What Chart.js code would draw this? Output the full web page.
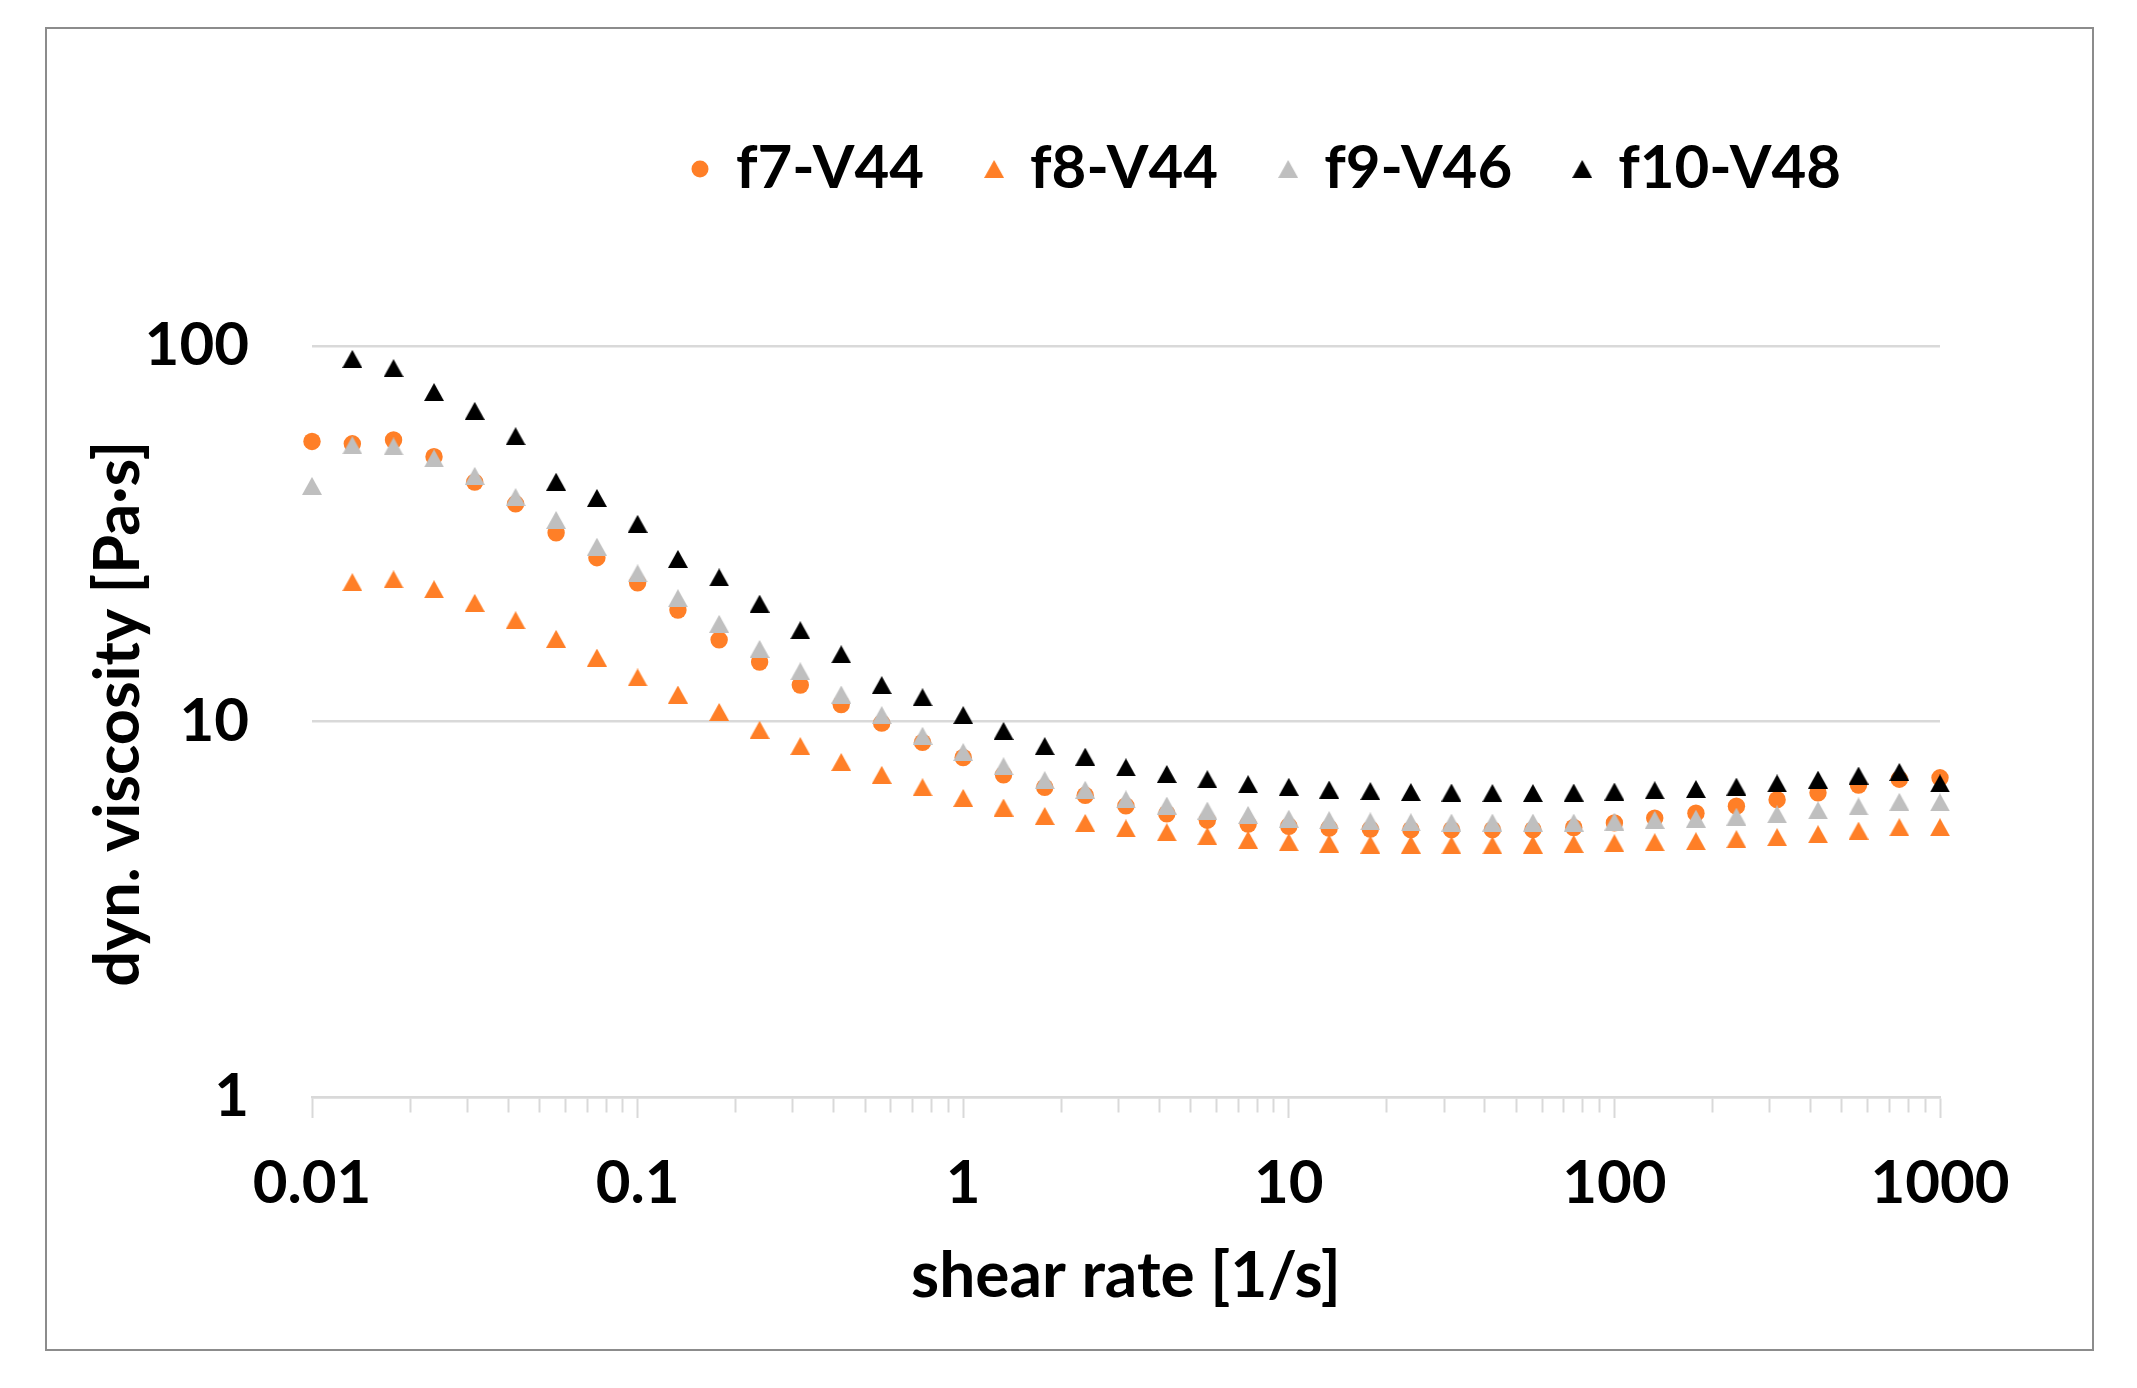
<!DOCTYPE html>
<html>
<head>
<meta charset="utf-8">
<title>dyn. viscosity vs shear rate</title>
<script src="https://cdn.jsdelivr.net/npm/chart.js@4/dist/chart.umd.min.js"></script>
<style>
  html, body { margin: 0; padding: 0; background: #fff; }
  #wrap  { position: relative; width: 2137px; height: 1388px; }
  #frame { position: absolute; left: 45px; top: 27px; width: 2045px; height: 1320px;
           border: 2px solid #8c8c8c; }
  canvas { position: absolute; left: 0; top: 0; }
</style>
</head>
<body>
<div id="wrap">
  <div id="frame"></div>
  <canvas id="chart" width="2137" height="1388"></canvas>
</div>
<script>
// ------------------------------------------------------------
// Data
// ------------------------------------------------------------
const shearRate = [
  0.01, 0.0133, 0.0178, 0.0237, 0.0316, 0.0422, 0.0562, 0.075,
  0.1, 0.133, 0.178, 0.237, 0.316, 0.422, 0.562, 0.75,
  1, 1.33, 1.78, 2.37, 3.16, 4.22, 5.62, 7.5,
  10, 13.3, 17.8, 23.7, 31.6, 42.2, 56.2, 75,
  100, 133, 178, 237, 316, 422, 562, 750, 1000
];

const f7V44 = [
  55.7, 54.9, 56.2, 50.7, 43.4, 38.0, 31.8, 27.3,
  23.4, 19.8, 16.5, 14.4, 12.5, 11.1, 9.9, 8.8,
  8.02, 7.21, 6.68, 6.36, 5.96, 5.68, 5.46, 5.33,
  5.26, 5.20, 5.17, 5.15, 5.15, 5.15, 5.15, 5.22,
  5.37, 5.53, 5.70, 5.95, 6.19, 6.46, 6.77, 7.02, 7.08
];

const f8V44 = [
  null, 23.5, 23.9, 22.5, 20.7, 18.6, 16.6, 14.8,
  13.1, 11.8, 10.6, 9.5, 8.6, 7.8, 7.21, 6.68,
  6.26, 5.90, 5.60, 5.37, 5.19, 5.07, 4.95, 4.84,
  4.77, 4.73, 4.70, 4.70, 4.68, 4.68, 4.70, 4.72,
  4.74, 4.77, 4.80, 4.86, 4.92, 5.01, 5.12, 5.23, 5.23
];

const f9V46 = [
  42.4, 54.4, 54.0, 50.2, 45.1, 39.6, 34.4, 29.2,
  24.8, 21.3, 18.2, 15.6, 13.6, 11.8, 10.4, 9.16,
  8.29, 7.60, 6.98, 6.58, 6.20, 5.97, 5.79, 5.64,
  5.51, 5.46, 5.42, 5.39, 5.38, 5.38, 5.38, 5.38,
  5.41, 5.47, 5.51, 5.58, 5.66, 5.80, 5.94, 6.11, 6.09
];

const f10V48 = [
  null, 92.4, 87.3, 75.4, 67.2, 57.5, 43.5, 39.4,
  33.6, 27.1, 24.2, 20.6, 17.5, 15.1, 12.5, 11.6,
  10.4, 9.44, 8.60, 8.06, 7.55, 7.25, 7.02, 6.81,
  6.70, 6.59, 6.53, 6.49, 6.47, 6.45, 6.45, 6.47,
  6.51, 6.56, 6.61, 6.71, 6.84, 7.00, 7.18, 7.34, 6.84
];

const seriesNames = ['f7-V44', 'f8-V44', 'f9-V46', 'f10-V48'];

const xDecades    = [0.01, 0.1, 1, 10, 100, 1000];
const xTickLabels = ['0.01', '0.1', '1', '10', '100', '1000'];
const minorSteps  = [2, 3, 4, 5, 6, 7, 8, 9];
const yTickValues = [1, 10, 100];
const yTickLabels = ['1', '10', '100'];

// ------------------------------------------------------------
// Look
// ------------------------------------------------------------
const FONT   = 'Lato, "Open Sans", sans-serif';
const ORANGE = '#ff7f27';
const GREY   = '#bfbfbf';
const BLACK  = '#000000';
const AXIS   = '#d9d9d9';

// plot area in page pixels
const PLOT = { left: 312, right: 1940, top: 346, bottom: 1097 };
const PAD  = { left: 40, bottom: 40 };

const LEGEND_PAD  = 64;
const LEGEND_TOP  = 75;
const LEGEND_LEFT = 700 - 6 - LEGEND_PAD;

// triangle marker, centred on its bounding box like the source chart
function triangleMarker(color) {
  const c = document.createElement('canvas');
  c.width = 20; c.height = 18;
  const g = c.getContext('2d');
  g.fillStyle = color;
  g.beginPath();
  g.moveTo(10, 0); g.lineTo(20, 18); g.lineTo(0, 18);
  g.closePath();
  g.fill();
  return c;
}

function toPoints(values) {
  return shearRate.map((x, i) => ({ x, y: values[i] }));
}

function decadeIndex(v) {
  return xDecades.findIndex(d => Math.abs(Math.log10(v) - Math.log10(d)) < 1e-6);
}

// move the legend to where it sits in the source (it is not centred)
const legendSpot = {
  id: 'legendSpot',
  beforeDraw(chart) {
    const lg = chart.legend;
    const h = lg.bottom - lg.top;
    lg.top = LEGEND_TOP;
    lg.bottom = LEGEND_TOP + h;
    lg.left = LEGEND_LEFT;
    lg.right = chart.width;
  }
};

function render() {
  const legendHeight = 60 + LEGEND_PAD + 10;

  const common = { showLine: false, clip: false, pointBorderWidth: 0 };

  new Chart(document.getElementById('chart'), {
    type: 'scatter',
    data: {
      datasets: [
        { ...common, label: seriesNames[0], data: toPoints(f7V44), order: 4,
          pointStyle: 'circle', pointRadius: 8.7, backgroundColor: ORANGE, borderColor: ORANGE },
        { ...common, label: seriesNames[1], data: toPoints(f8V44), order: 3,
          pointStyle: triangleMarker(ORANGE), pointRadius: 10, backgroundColor: ORANGE, borderColor: ORANGE },
        { ...common, label: seriesNames[2], data: toPoints(f9V46), order: 2,
          pointStyle: triangleMarker(GREY), pointRadius: 10, backgroundColor: GREY, borderColor: GREY },
        { ...common, label: seriesNames[3], data: toPoints(f10V48), order: 1,
          pointStyle: triangleMarker(BLACK), pointRadius: 10, backgroundColor: BLACK, borderColor: BLACK },
      ],
    },
    options: {
      responsive: false,
      animation: false,
      devicePixelRatio: 1,
      events: [],
      layout: {
        padding: {
          left: PAD.left,
          right: 2137 - PLOT.right,
          top: PLOT.top - legendHeight,
          bottom: PAD.bottom,
        },
      },
      plugins: {
        tooltip: { enabled: false },
        legend: {
          position: 'top',
          align: 'start',
          labels: {
            usePointStyle: true,
            boxWidth: 12,
            boxHeight: 12,
            padding: LEGEND_PAD,
            color: '#000',
            font: { family: FONT, size: 60, weight: 'bold' },
            sort: (a, b) => a.datasetIndex - b.datasetIndex,
          },
        },
      },
      scales: {
        x: {
          type: 'logarithmic',
          position: 'bottom',
          min: 0.01,
          max: 1000,
          afterBuildTicks: (scale) => {
            const ticks = [];
            xDecades.forEach((d, i) => {
              ticks.push({ value: d, major: true });
              if (i < xDecades.length - 1) minorSteps.forEach(m => ticks.push({ value: d * m }));
            });
            scale.ticks = ticks;
          },
          afterFit: (scale) => { scale.height = 1388 - PAD.bottom - PLOT.bottom; },
          border: { display: true, color: AXIS, width: 2.5 },
          grid: {
            drawOnChartArea: false,
            drawTicks: true,
            tickLength: 21,
            tickWidth: 2,
            tickColor: AXIS,
            // minor ticks are shorter: dash cuts them off
            tickBorderDash: (ctx) => (ctx.tick && decadeIndex(ctx.tick.value) < 0) ? [14, 100] : [],
          },
          ticks: {
            autoSkip: false,
            maxRotation: 0,
            padding: 30,
            color: '#000',
            font: { family: FONT, size: 60, weight: 'bold' },
            callback: (v) => {
              const i = decadeIndex(v);
              return i >= 0 ? xTickLabels[i] : '';
            },
          },
          title: {
            display: true,
            text: 'shear rate [1/s]',
            color: '#000',
            font: { family: FONT, size: 64, weight: 'bold' },
            padding: { top: 0, bottom: 33 },
          },
        },
        y: {
          type: 'logarithmic',
          min: 1,
          max: 100,
          afterBuildTicks: (scale) => {
            scale.ticks = yTickValues.map(v => ({ value: v, major: true }));
          },
          afterFit: (scale) => { scale.width = PLOT.left - PAD.left; },
          border: { display: false },
          grid: { color: AXIS, lineWidth: 2.5, drawTicks: false },
          ticks: {
            padding: 63,
            color: '#000',
            font: { family: FONT, size: 60, weight: 'bold' },
            callback: (v, i) => yTickLabels[i],
          },
          title: {
            display: true,
            // leading space nudges the centred title up a little, as in the source
            text: ' dyn. viscosity [Pa·s]',
            color: '#000',
            font: { family: FONT, size: 63, weight: 'bold' },
            padding: { top: 41, bottom: 0 },
          },
        },
      },
    },
    plugins: [legendSpot],
  });
}

document.fonts.load('bold 60px Lato').then(render, render);
</script>
</body>
</html>
